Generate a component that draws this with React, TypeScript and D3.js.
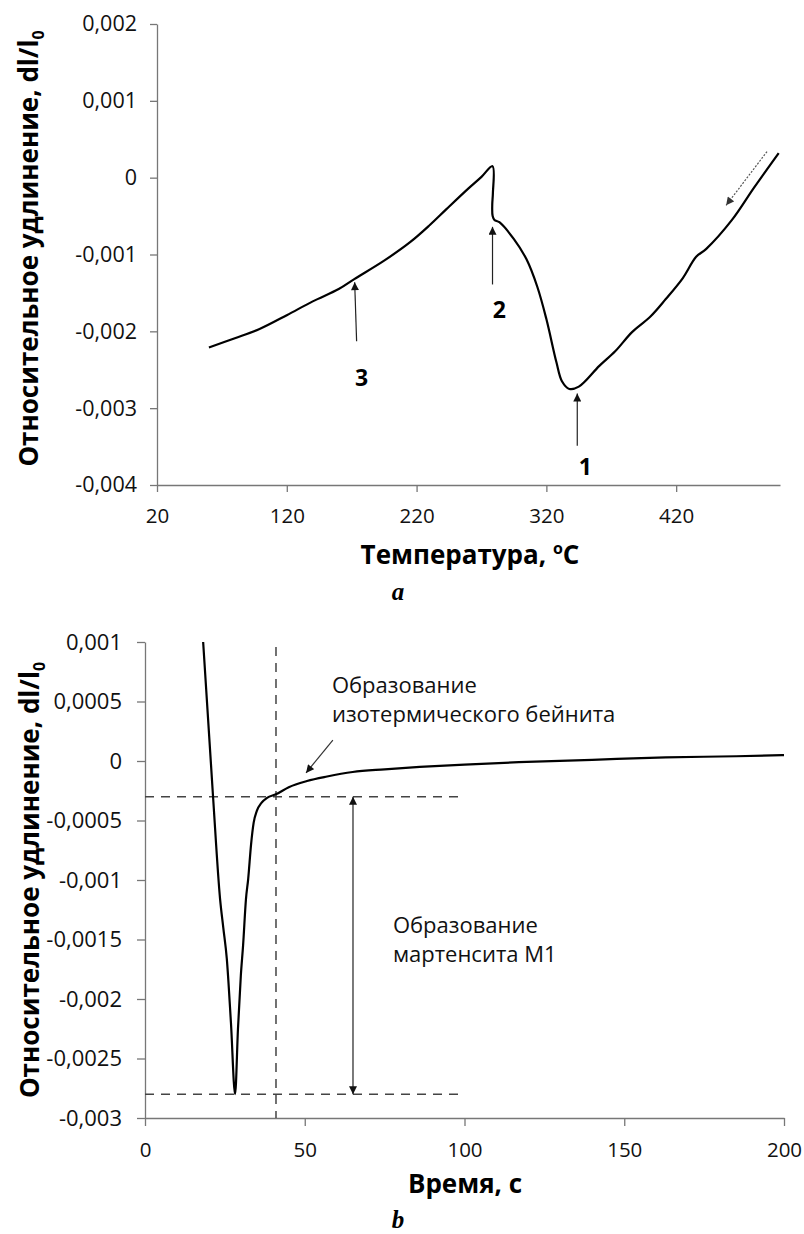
import React, { useEffect, useRef } from 'react';
import * as d3 from 'd3';

// ---------- Chart a: strain vs temperature ----------
const TEMP_TICKS = [20, 120, 220, 320, 420];
const STRAIN_TICKS_A = [-0.004, -0.003, -0.002, -0.001, 0, 0.001, 0.002];
const TEMPERATURE = [60, 80, 99, 120, 140, 160, 172, 195, 215, 230, 243, 260, 270, 278.5, 278.8, 278.3, 278.6, 280, 283.8, 295, 304.6, 313, 320, 327.7, 332, 337.7, 345, 360.8, 373, 386, 400, 412, 425, 435.4, 443, 463, 480, 499];
const STRAIN_A = [-0.00221, -0.00209, -0.00197, -0.00179, -0.00161, -0.00145, -0.00132, -0.00108, -0.00084, -0.00062, -0.00041, -0.00014, 0.00001, 0.00015, -0.0002, -0.00035, -0.0005, -0.00055, -0.00058, -0.0008, -0.00106, -0.00142, -0.00184, -0.0024, -0.00265, -0.00275, -0.00272, -0.00245, -0.00226, -0.00201, -0.00181, -0.00158, -0.00131, -0.00103, -0.00093, -0.00055, -0.00013, 0.00032];
const LABELS_A = ['1', '2', '3'];
const LABEL_T_A = [350, 283.8, 177.7];
const LABEL_V_A = [-0.00387, -0.00183, -0.00271];
const ARROW_FROM_T_A = [343.8, 278.5, 173.8];
const ARROW_FROM_V_A = [-0.00349, -0.00139, -0.00213];
const ARROW_TO_T_A = [343.8, 278.5, 172.3];
const ARROW_TO_V_A = [-0.00281, -0.00064, -0.00136];
const DIR_ARROW_T = [490, 458.5];
const DIR_ARROW_V = [0.00034, -0.00036];

// ---------- Chart b: strain vs time ----------
const TIME_TICKS = [0, 50, 100, 150, 200];
const STRAIN_TICKS_B = [-0.003, -0.0025, -0.002, -0.0015, -0.001, -0.0005, 0, 0.0005, 0.001];
const TIME = [18.2, 21.3, 23.5, 24.5, 25.6, 26.9, 28.2, 29.1, 30.0, 30.7, 31.6, 32.3, 33.2, 34.0, 35.0, 36.5, 38.2, 41, 45, 50.7, 57, 65, 75, 86, 100, 117, 140, 163, 185, 200];
const STRAIN_B = [0.001, -0.0003, -0.00116, -0.0014, -0.00166, -0.0022, -0.0028, -0.00225, -0.0018, -0.00155, -0.00116, -0.00099, -0.0007, -0.00052, -0.00042, -0.00035, -0.00031, -0.00028, -0.00022, -0.000168, -0.00013, -0.0000924, -0.00007, -0.00005, -0.00003, -0.00001, 0.00001, 0.00003, 0.00004, 0.00005];
const GUIDE_V_B = [-0.0003, -0.0028];
const GUIDE_T_END = 100;
const GUIDE_T_VERT = 41;
const M1_ARROW_T = 65.1;
const BAINITE_ARROW_T = [58.8, 50.4];
const BAINITE_ARROW_V = [0.000176, -0.0001];
const NOTE_BAINITE = ['Образование', 'изотермического бейнита'];
const NOTE_BAINITE_POS = [58.5, 0.000575];
const NOTE_M1 = ['Образование', 'мартенсита М1'];
const NOTE_M1_POS = [77.6, -0.001445];

const W = 804;
const H = 1234;
const FONT = "'Open Sans', 'Noto Sans', sans-serif";
const fmt = (v: number) => String(+v.toFixed(4)).replace('.', ',');

export default function App() {
  const ref = useRef<SVGSVGElement>(null);

  useEffect(() => {
    const svg = d3.select(ref.current);
    svg.selectAll('*').remove();

    const defs = svg.append('defs');
    const mk = (id: string, color: string, len: number, wid: number) =>
      defs.append('marker')
        .attr('id', id)
        .attr('viewBox', '0 0 10 10')
        .attr('refX', 10).attr('refY', 5)
        .attr('markerUnits', 'userSpaceOnUse')
        .attr('markerWidth', len).attr('markerHeight', wid)
        .attr('orient', 'auto-start-reverse')
        .append('path').attr('d', 'M0,0 L10,5 L0,10 z').attr('fill', color);
    mk('ah', '#111', 9, 8);
    mk('ahg', '#333', 9, 8);

    const styleAxis = (g: any, fs: number) => {
      g.select('.domain').attr('stroke', '#777').attr('stroke-width', 1.3);
      g.selectAll('.tick line').attr('stroke', '#777').attr('stroke-width', 1.3);
      g.selectAll('.tick text').attr('font-family', FONT).attr('font-size', fs).attr('fill', '#111');
    };

    // ===== Chart a =====
    const xA = d3.scaleLinear().domain([20, 500]).range([157, 780]);
    const yA = d3.scaleLinear().domain([-0.004, 0.002]).range([485, 24]);

    const gA = svg.append('g');
    const axYA = gA.append('g').attr('transform', `translate(${xA(20)},0)`)
      .call(d3.axisLeft(yA).tickValues(STRAIN_TICKS_A).tickSize(7).tickSizeOuter(0).tickPadding(13).tickFormat(fmt as any));
    styleAxis(axYA, 21.5);
    const axXA = gA.append('g').attr('transform', `translate(0,${yA(-0.004)})`)
      .call(d3.axisBottom(xA).tickValues(TEMP_TICKS).tickSize(7).tickSizeOuter(0).tickPadding(16).tickFormat(d3.format('d') as any));
    styleAxis(axXA, 20.5);

    const lineA = d3.line<number>().x((_, i) => xA(TEMPERATURE[i])).y((d) => yA(d)).curve(d3.curveCatmullRom.alpha(0.5));
    gA.append('path').attr('d', lineA(STRAIN_A)).attr('fill', 'none')
      .attr('stroke', '#000').attr('stroke-width', 2.2).attr('stroke-linejoin', 'round');

    LABELS_A.forEach((lab, i) => {
      gA.append('line')
        .attr('x1', xA(ARROW_FROM_T_A[i])).attr('y1', yA(ARROW_FROM_V_A[i]))
        .attr('x2', xA(ARROW_TO_T_A[i])).attr('y2', yA(ARROW_TO_V_A[i]))
        .attr('stroke', '#222').attr('stroke-width', 1.2).attr('marker-end', 'url(#ah)');
      gA.append('text').attr('x', xA(LABEL_T_A[i])).attr('y', yA(LABEL_V_A[i]))
        .attr('text-anchor', 'middle').attr('font-family', FONT).attr('font-weight', 'bold')
        .attr('font-size', 23).attr('fill', '#000').text(lab);
    });
    gA.append('line')
      .attr('x1', xA(DIR_ARROW_T[0])).attr('y1', yA(DIR_ARROW_V[0]))
      .attr('x2', xA(DIR_ARROW_T[1])).attr('y2', yA(DIR_ARROW_V[1]))
      .attr('stroke', '#555').attr('stroke-width', 1.2).attr('stroke-dasharray', '2,1.5')
      .attr('marker-end', 'url(#ahg)');

    // titles a
    const tyA = gA.append('text').attr('transform', `translate(38,${(yA(-0.004) + yA(0.002)) / 2 - 6}) rotate(-90)`)
      .attr('text-anchor', 'middle').attr('font-family', FONT).attr('font-weight', 'bold').attr('font-size', 26).attr('fill', '#000');
    tyA.append('tspan').text('Относительное удлинение, dl/l');
    tyA.append('tspan').attr('font-size', 16).attr('dy', 6).text('0');
    const txA = gA.append('text').attr('x', 470).attr('y', 564)
      .attr('text-anchor', 'middle').attr('font-family', FONT).attr('font-weight', 'bold').attr('font-size', 26).attr('fill', '#000');
    txA.append('tspan').text('Температура, ');
    txA.append('tspan').attr('font-size', 16).attr('dy', -10).text('o');
    txA.append('tspan').attr('dy', 10).text('C');
    gA.append('text').attr('x', 398).attr('y', 600).attr('text-anchor', 'middle')
      .attr('font-family', "'Liberation Serif', 'DejaVu Serif', serif").attr('font-style', 'italic').attr('font-weight', 'bold')
      .attr('font-size', 25).text('a');

    // ===== Chart b =====
    const xB = d3.scaleLinear().domain([0, 200]).range([145, 784]);
    const yB = d3.scaleLinear().domain([-0.003, 0.001]).range([1118, 642]);
    const gB = svg.append('g');

    const axYB = gB.append('g').attr('transform', `translate(${xB(0)},0)`)
      .call(d3.axisLeft(yB).tickValues(STRAIN_TICKS_B).tickSize(8).tickSizeOuter(0).tickPadding(15).tickFormat(fmt as any));
    styleAxis(axYB, 22);
    const axXB = gB.append('g').attr('transform', `translate(0,${yB(-0.003)})`)
      .call(d3.axisBottom(xB).tickValues(TIME_TICKS).tickSize(8).tickSizeOuter(0).tickPadding(16).tickFormat(d3.format('d') as any));
    styleAxis(axXB, 20.5);

    // guides
    GUIDE_V_B.forEach((v) => {
      gB.append('line').attr('x1', xB(0)).attr('x2', xB(GUIDE_T_END)).attr('y1', yB(v)).attr('y2', yB(v))
        .attr('stroke', '#444').attr('stroke-width', 1.5).attr('stroke-dasharray', '9,7');
    });
    gB.append('line').attr('x1', xB(GUIDE_T_VERT)).attr('x2', xB(GUIDE_T_VERT)).attr('y1', yB(0.001) + 5).attr('y2', yB(-0.003))
      .attr('stroke', '#444').attr('stroke-width', 1.5).attr('stroke-dasharray', '9,7');

    const lineB = d3.line<number>().x((_, i) => xB(TIME[i])).y((d) => yB(d)).curve(d3.curveMonotoneX);
    gB.append('path').attr('d', lineB(STRAIN_B)).attr('fill', 'none')
      .attr('stroke', '#000').attr('stroke-width', 2.2).attr('stroke-linejoin', 'round');

    // arrows
    gB.append('line').attr('x1', xB(M1_ARROW_T)).attr('x2', xB(M1_ARROW_T))
      .attr('y1', yB(GUIDE_V_B[0])).attr('y2', yB(GUIDE_V_B[1]))
      .attr('stroke', '#222').attr('stroke-width', 1.2)
      .attr('marker-start', 'url(#ah)').attr('marker-end', 'url(#ah)');
    gB.append('line').attr('x1', xB(BAINITE_ARROW_T[0])).attr('y1', yB(BAINITE_ARROW_V[0]))
      .attr('x2', xB(BAINITE_ARROW_T[1])).attr('y2', yB(BAINITE_ARROW_V[1]))
      .attr('stroke', '#333').attr('stroke-width', 1.2).attr('marker-end', 'url(#ah)');

    const note = (lines: string[], pos: number[], lh: number) => {
      lines.forEach((s, i) => {
        gB.append('text').attr('font-family', FONT).attr('font-size', 22).attr('fill', '#111')
          .attr('x', xB(pos[0])).attr('y', yB(pos[1]) + i * lh).text(s);
      });
    };
    note(NOTE_BAINITE, NOTE_BAINITE_POS, 29);
    note(NOTE_M1, NOTE_M1_POS, 29);

    const tyB = gB.append('text').attr('transform', `translate(39,${(yB(-0.003) + yB(0.001)) / 2}) rotate(-90)`)
      .attr('text-anchor', 'middle').attr('font-family', FONT).attr('font-weight', 'bold').attr('font-size', 26).attr('fill', '#000');
    tyB.append('tspan').text('Относительное удлинение, dl/l');
    tyB.append('tspan').attr('font-size', 16).attr('dy', 6).text('0');
    gB.append('text').attr('x', 465).attr('y', 1193).attr('text-anchor', 'middle')
      .attr('font-family', FONT).attr('font-weight', 'bold').attr('font-size', 26).attr('fill', '#000').text('Время, с');
    gB.append('text').attr('x', 398).attr('y', 1228).attr('text-anchor', 'middle')
      .attr('font-family', "'Liberation Serif', 'DejaVu Serif', serif").attr('font-style', 'italic').attr('font-weight', 'bold')
      .attr('font-size', 25).text('b');
  }, []);

  return (
    <div style={{ position: 'absolute', left: 0, top: 0, width: W, height: H, background: '#fff' }}>
      <svg ref={ref} width={W} height={H} style={{ display: 'block' }} />
    </div>
  );
}
